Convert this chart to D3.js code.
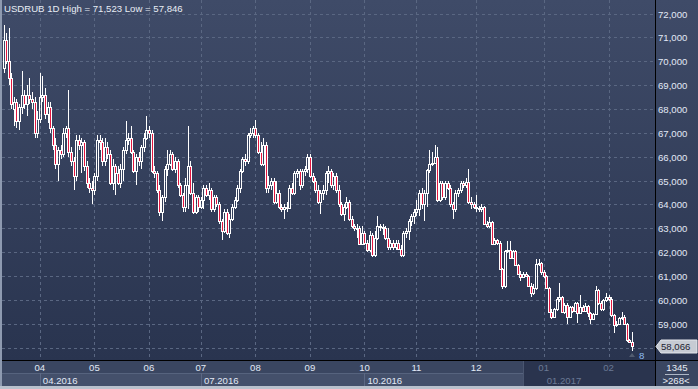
<!DOCTYPE html>
<html>
<head>
<meta charset="utf-8">
<script src="https://cdn.jsdelivr.net/npm/d3@7"></script>
<style>
  html, body { margin: 0; padding: 0; background: #2e3954; }
  svg { display: block; }
  text { font-family: "Liberation Sans", Arial, sans-serif; font-size: 9.6px; }
</style>
</head>
<body>
<div id="chart"></div>
<script>
// daily candles, one array per month: [open, high, low, close] (thousands of RUB)
const mar16 = [
  [69.7,71.523,69.5,70.9],[70.9,71.2,69.9,70.0],[70.0,71.4,69.0,69.3],[69.3,69.5,68.0,68.2],
  [68.0,68.5,67.3,68.3],[68.3,68.4,67.2,67.5],[67.5,68.2,67.1,68.1],[68.1,69.6,67.8,68.6],
  [68.6,68.8,68.0,68.2],[68.2,69.0,67.7,68.6],[68.6,69.3,68.2,68.4],[68.4,68.7,68.0,68.3],
  [68.3,68.5,66.8,67.0],[67.0,67.9,66.8,67.6]
];
const apr16 = [
  [67.6,69.5,67.4,68.5],[68.5,69.4,68.3,68.6],[68.6,68.9,67.6,67.8],[67.8,68.3,67.4,68.1],
  [68.1,68.3,67.0,67.2],[67.2,67.3,66.3,66.5],[66.5,66.8,65.5,65.7],[65.7,66.4,65.0,66.3],
  [66.3,66.5,65.9,66.1],[66.1,67.2,66.0,67.0],[67.0,67.3,66.8,67.2],[67.2,68.8,66.0,66.2],
  [66.2,66.4,65.6,65.8],[65.8,66.0,64.6,65.2],[65.2,66.9,65.0,66.7],[66.7,66.9,66.3,66.5],
  [66.5,66.8,65.3,66.6],[66.6,66.7,65.4,65.6],[65.6,65.8,64.7,64.9],[64.9,65.1,64.5,64.7],
  [64.7,65.0,64.0,64.6]
];
const may16 = [
  [64.6,65.3,64.4,65.2],[65.2,66.9,65.0,66.7],[66.7,66.9,66.3,66.6],[66.6,66.8,65.6,65.8],
  [65.8,66.8,65.6,66.4],[66.4,66.6,65.9,66.1],[66.1,66.3,64.8,64.9],[64.9,65.9,64.6,65.6],
  [65.6,65.7,64.4,65.3],[65.3,65.6,64.8,64.9],[64.9,65.7,64.7,65.5],[65.5,66.4,65.0,66.3],
  [66.3,67.5,66.1,66.7],[66.7,67.0,66.5,66.8],[66.8,67.3,66.1,66.2],[66.2,66.3,65.3,65.4],
  [65.4,66.1,64.8,66.0],[66.0,66.2,65.6,65.8],[65.8,66.5,65.5,66.4],[66.4,67.0,66.2,66.8],
  [66.8,67.7,66.7,67.1]
];
const jun16 = [
  [67.1,67.3,66.8,67.0],[67.0,67.1,65.3,65.4],[65.4,65.6,65.1,65.3],[65.3,65.4,64.5,64.6],
  [64.6,64.8,63.5,63.7],[63.7,64.4,63.3,64.3],[64.3,65.6,64.1,65.5],[65.5,66.3,65.2,65.7],
  [65.7,66.3,65.6,66.1],[66.1,66.2,65.4,65.5],[65.5,66.0,65.3,65.8],[65.8,65.9,64.7,64.8],
  [64.8,64.9,64.3,64.4],[64.4,64.5,63.7,63.9],[63.9,65.1,63.7,64.8],[64.8,67.3,63.8,65.6],
  [65.6,65.8,64.4,64.5],[64.5,64.9,63.6,63.7],[63.7,64.4,63.6,64.3],[64.3,64.4,63.7,63.9]
];
const jul16 = [
  [63.9,64.3,63.8,64.2],[64.2,64.8,63.8,64.7],[64.7,64.8,64.3,64.4],[64.4,64.9,64.2,64.6],
  [64.6,64.7,63.7,63.8],[63.8,64.4,63.7,64.3],[64.3,64.4,63.9,64.0],[64.0,64.1,63.2,63.3],
  [63.3,63.4,62.5,62.9],[62.9,63.8,62.8,63.7],[63.7,63.8,62.7,62.8],[62.8,63.6,62.6,63.4],
  [63.4,64.0,63.3,63.9],[63.9,64.3,63.8,64.2],[64.2,64.8,64.1,64.7],[64.7,65.5,64.5,65.4],
  [65.4,66.0,65.3,65.9],[65.9,66.1,65.6,65.8],[65.8,67.0,65.7,66.9],[66.9,67.2,66.8,67.0],
  [67.0,67.3,66.8,67.2]
];
const aug16 = [
  [67.2,67.52,66.8,66.9],[66.9,67.0,66.1,66.2],[66.2,66.6,65.6,65.7],[65.7,66.8,65.6,66.5],
  [66.5,66.6,64.5,64.7],[64.7,65.2,64.5,64.8],[64.8,65.1,64.6,65.0],[65.0,65.1,64.0,64.1],
  [64.1,65.0,64.0,64.5],[64.5,64.6,63.8,63.9],[63.9,64.0,63.7,63.8],[63.8,64.0,63.4,63.9],
  [63.9,64.1,63.7,63.85],[63.85,64.8,63.8,64.7],[64.7,64.9,64.4,64.5],[64.5,65.4,64.4,65.3],
  [65.3,65.5,65.1,65.4],[65.4,65.5,64.6,64.8],[64.8,65.5,64.7,65.4],[65.4,65.6,65.2,65.5],
  [65.5,66.1,65.3,66.0]
];
const sep16 = [
  [66.0,66.1,65.1,65.2],[65.2,65.3,64.9,65.0],[65.0,65.1,64.5,64.6],[64.6,64.8,64.0,64.1],
  [64.1,64.6,63.6,64.5],[64.5,64.8,64.2,64.6],[64.6,65.4,64.4,65.3],[65.3,65.6,64.9,65.4],
  [65.4,65.5,64.7,64.8],[64.8,65.3,64.6,65.2],[65.2,65.3,64.5,64.6],[64.6,64.8,63.9,64.0],
  [64.0,64.1,63.5,63.6],[63.6,64.0,63.3,63.9],[63.9,64.3,63.8,64.1],[64.1,64.2,63.3,63.4],
  [63.4,63.5,63.0,63.1],[63.1,63.2,62.9,63.0],[63.0,63.2,62.6,63.0],[63.0,63.1,62.3,62.35],
  [62.35,63.1,62.3,62.8]
];
const oct16 = [
  [62.8,62.9,62.3,62.4],[62.4,62.5,62.0,62.1],[62.1,62.9,62.0,62.7],[62.7,62.8,61.8,61.9],
  [61.9,62.9,61.8,62.6],[62.6,63.5,62.5,63.1],[63.1,63.2,62.9,63.05],[63.05,63.2,62.7,63.0],
  [63.0,63.1,62.5,62.6],[62.6,63.0,62.1,62.2],[62.2,62.5,62.1,62.4],[62.4,62.5,62.1,62.2],
  [62.2,62.5,62.1,62.4],[62.4,62.5,62.1,62.15],[62.15,62.3,61.8,61.9],[61.9,62.9,61.8,62.8],
  [62.8,63.0,62.6,62.9],[62.9,63.4,62.5,63.3],[63.3,63.6,63.1,63.5],[63.5,63.8,63.2,63.7]
];
const nov16 = [
  [63.7,64.2,63.5,63.8],[63.8,64.6,63.5,64.5],[64.5,64.7,63.8,64.0],[64.0,64.6,63.3,64.5],
  [64.5,65.5,63.9,65.45],[65.45,66.3,65.3,65.7],[65.7,66.2,65.6,65.75],[65.75,66.5,65.7,66.0],
  [66.0,66.4,64.1,64.2],[64.2,65.0,64.1,64.9],[64.9,65.0,64.2,64.3],[64.3,65.0,64.2,64.9],
  [64.9,65.0,64.6,64.7],[64.7,64.8,63.9,64.0],[64.0,64.1,63.4,63.8],[63.8,64.6,63.7,64.5],
  [64.5,64.7,64.3,64.6],[64.6,65.0,64.5,64.9],[64.9,65.0,64.7,64.8],[64.8,65.1,64.7,64.95],
  [64.95,65.5,64.0,64.1],[64.1,64.3,63.8,64.0],[64.0,64.1,63.8,63.9]
];
const dec16 = [
  [63.9,64.4,63.7,63.85],[63.85,63.95,63.7,63.8],[63.8,64.0,63.7,63.9],[63.9,63.95,63.15,63.2],
  [63.2,63.3,63.0,63.1],[63.1,63.47,63.0,63.25],[63.25,63.3,62.3,62.35],[62.35,62.6,62.3,62.5],
  [62.5,62.55,62.3,62.4],[62.4,62.45,61.25,61.3],[61.3,61.35,60.45,60.6],[60.6,62.1,60.5,62.05],
  [62.05,62.45,61.95,62.1],[62.1,62.45,61.7,61.75],[61.75,62.1,61.7,62.05],[62.05,62.1,61.4,61.45],
  [61.45,61.5,61.05,61.1],[61.1,61.2,60.8,60.95],[60.95,61.15,60.9,61.1],[61.1,61.15,60.95,61.0],
  [61.0,61.05,60.55,60.6],[60.6,60.7,60.1,60.3],[60.3,60.65,60.2,60.5],[60.5,61.7,60.4,61.5],
  [61.5,61.7,61.4,61.55],[61.55,61.6,61.05,61.15]
];
const jan17 = [
  [61.15,61.25,60.9,61.0],[61.0,61.05,60.45,60.5],[60.5,60.55,59.45,59.5],[59.5,59.6,59.2,59.3],
  [59.3,59.65,59.25,59.6],[59.6,60.1,59.55,60.05],[60.05,60.7,59.9,60.1],[60.1,60.15,59.45,59.5],
  [59.5,59.85,59.4,59.8],[59.8,59.85,59.0,59.3],[59.3,59.75,59.25,59.7],[59.7,59.75,59.45,59.55],
  [59.55,59.9,59.5,59.85],[59.85,59.9,59.05,59.45],[59.45,60.2,59.4,59.7],[59.7,59.8,59.5,59.55],
  [59.55,59.85,59.5,59.75],[59.75,59.8,59.3,59.45],[59.45,59.5,59.0,59.2],[59.2,59.45,59.15,59.4],
  [59.4,60.6,59.35,60.4],[60.4,60.45,59.8,59.85],[59.85,59.95,59.55,59.6],[59.6,60.05,59.55,60.0],
  [60.0,60.3,59.9,60.1]
];
const feb17 = [
  [60.1,60.2,59.95,60.05],[60.05,60.1,59.3,59.35],[59.35,59.4,58.6,58.95],[58.95,59.1,58.85,59.0],
  [59.0,59.3,58.95,59.25],[59.25,59.5,59.15,59.3],[59.3,59.35,58.95,59.0],[59.0,59.05,58.25,58.3],
  [58.3,58.35,58.2,58.25],[58.25,58.65,57.846,58.066]
];

const MONTHS = [mar16, apr16, may16, jun16, jul16, aug16, sep16, oct16, nov16, dec16, jan17, feb17];
const MONTH_LABELS = ["03","04","05","06","07","08","09","10","11","12","01","02"];
const QUARTERS = [ { month: 1, label: "04.2016" }, { month: 4, label: "07.2016" },
                   { month: 7, label: "10.2016" }, { month: 10, label: "01.2017" } ];
const Y_TICKS = [59,60,61,62,63,64,65,66,67,68,69,70,71,72];
const SHADE_FROM = 200;          // candle index where the dim bottom area starts
const BAR_COUNT_TEXT = "1345";
const RANGE_TEXT = ">268<";
const MARK_TEXT = "8";

const W = 698, H = 389;
const PLOT_R = 655, AXIS_Y = 360;
const RED = "#e3163f";

// flatten months into candles
const candles = [];
const monthStart = [];
MONTHS.forEach(m => {
  monthStart.push(candles.length);
  m.forEach(([o, h, l, c]) => candles.push({ i: candles.length, o, h, l, c }));
});
const N = candles.length;

const x = d3.scaleLinear().domain([0, N - 1]).range([3.5, 632]);
const y = d3.scaleLinear().domain([58, 68]).range([347.6, 109]);
const fmt = d3.format(",");
const k = v => fmt(Math.round(v * 1000));

const svg = d3.select("#chart").append("svg")
  .attr("width", W).attr("height", H);

const grad = svg.append("defs").append("linearGradient")
  .attr("id", "bg").attr("x1", 0).attr("y1", 0).attr("x2", 0).attr("y2", 1);
grad.append("stop").attr("offset", "0%").attr("stop-color", "#3f4b68");
grad.append("stop").attr("offset", "100%").attr("stop-color", "#29344f");

svg.append("rect").attr("width", W).attr("height", AXIS_Y + 1).attr("fill", "url(#bg)");

// grid
const grid = svg.append("g").attr("stroke", "#5a6782").attr("stroke-dasharray", "3,3");
[58, ...Y_TICKS].forEach(v => {
  const yy = Math.round(y(v)) + 0.5;
  grid.append("line").attr("x1", 2).attr("x2", PLOT_R).attr("y1", yy).attr("y2", yy);
});
monthStart.slice(1).forEach(idx => {
  const xx = Math.round(x(idx)) + 0.5;
  grid.append("line").attr("x1", xx).attr("x2", xx).attr("y1", 0).attr("y2", AXIS_Y);
});

// candles: hollow white when up, red with white outline when down
const cg = svg.append("g");
candles.forEach(d => {
  const cx = Math.round(x(d.i));
  const up = d.c >= d.o;
  const top = Math.round(y(Math.max(d.o, d.c)));
  const bot = Math.max(top + 1, Math.round(y(Math.min(d.o, d.c))));
  const hi = Math.round(y(d.h)), lo = Math.round(y(d.l));
  if (up) {
    cg.append("line").attr("x1", cx + 0.5).attr("x2", cx + 0.5).attr("y1", hi).attr("y2", top)
      .attr("stroke", "#fff");
    cg.append("line").attr("x1", cx + 0.5).attr("x2", cx + 0.5).attr("y1", bot).attr("y2", lo)
      .attr("stroke", "#fff");
  } else {
    cg.append("line").attr("x1", cx + 0.5).attr("x2", cx + 0.5).attr("y1", hi).attr("y2", lo)
      .attr("stroke", "#fff");
  }
  cg.append("rect")
    .attr("x", cx - 0.5).attr("y", top + 0.5)
    .attr("width", 2).attr("height", bot - top)
    .attr("fill", up ? "none" : RED)
    .attr("stroke", "#fff").attr("stroke-width", 1);
});

// y labels
svg.append("g").selectAll("text").data(Y_TICKS).join("text")
  .attr("x", 658).attr("y", v => Math.round(y(v)) + 4)
  .attr("fill", "#e2e9f6")
  .text(v => k(v));

// title
const hiAll = d3.max(candles, d => d.h), loAll = d3.min(candles, d => d.l);
svg.append("text").attr("x", 4).attr("y", 12)
  .attr("fill", "#e8edf5")
  .text(`USDRUB 1D High = ${k(hiAll)} Low = ${k(loAll)}`);

// bottom axis panel
const shadeX = Math.round(x(SHADE_FROM));
svg.append("rect").attr("x", 0).attr("y", AXIS_Y).attr("width", W).attr("height", H - AXIS_Y)
  .attr("fill", "#3a4661");
svg.append("rect").attr("x", 2).attr("y", 373).attr("width", PLOT_R - 2).attr("height", 13)
  .attr("fill", "#44506b");
svg.append("line").attr("x1", 2).attr("x2", PLOT_R).attr("y1", 373.5).attr("y2", 373.5)
  .attr("stroke", "#56637e");
QUARTERS.forEach(q => {
  const xx = Math.round(x(monthStart[q.month])) + 0.5;
  if (xx < shadeX) {
    svg.append("line").attr("x1", xx).attr("x2", xx).attr("y1", 373).attr("y2", 386)
      .attr("stroke", "#5b6884");
  }
});
svg.append("rect").attr("x", shadeX).attr("y", AXIS_Y + 1).attr("width", PLOT_R - shadeX)
  .attr("height", 25).attr("fill", "#2a344e");
svg.append("line").attr("x1", shadeX + 0.5).attr("x2", shadeX + 0.5).attr("y1", AXIS_Y + 1).attr("y2", 386)
  .attr("stroke", "#4a5670");

monthStart.slice(1).forEach((idx, j) => {
  const xx = x(idx);
  svg.append("text").attr("x", xx).attr("y", 371).attr("text-anchor", "middle")
    .attr("fill", xx > shadeX ? "#6b7994" : "#e2e9f6")
    .text(MONTH_LABELS[j + 1]);
});
QUARTERS.forEach(q => {
  const xx = x(monthStart[q.month]) + 3;
  svg.append("text").attr("x", xx).attr("y", 383.5)
    .attr("fill", xx > shadeX ? "#6b7994" : "#e2e9f6")
    .text(q.label);
});

// axis lines
svg.append("line").attr("x1", 0).attr("x2", W).attr("y1", AXIS_Y + 0.5).attr("y2", AXIS_Y + 0.5)
  .attr("stroke", "#000");
svg.append("line").attr("x1", PLOT_R + 0.5).attr("x2", PLOT_R + 0.5).attr("y1", 0).attr("y2", H)
  .attr("stroke", "#000");

// bottom-right box
svg.append("text").attr("x", 677).attr("y", 370.5).attr("text-anchor", "middle")
  .attr("fill", "#e8edf5").text(BAR_COUNT_TEXT);
svg.append("line").attr("x1", 665).attr("x2", 689).attr("y1", 374.5).attr("y2", 374.5)
  .attr("stroke", "#aeb7c6");
svg.append("text").attr("x", 676).attr("y", 383.5).attr("text-anchor", "middle")
  .attr("fill", "#e8edf5").text(RANGE_TEXT);

// last price label
const last = candles[N - 1];
const ly = Math.round(y(last.c)) + 0.5;
svg.append("path")
  .attr("d", `M656,${ly} L661,${ly - 6.5} L697,${ly - 6.5} L697,${ly + 6.5} L661,${ly + 6.5} Z`)
  .attr("fill", "#c6cbd3").attr("stroke", "#e4e7ec");
svg.append("text").attr("x", 661).attr("y", ly + 3.5)
  .attr("fill", "#1c2231").text(k(last.c));

// marker under last candle
const mx = Math.round(x(N - 1));
svg.append("path").attr("d", `M${mx - 3},357 L${mx + 3},357 L${mx},353 Z`).attr("fill", "#515c70");
svg.append("text").attr("x", mx + 7).attr("y", 358.5)
  .attr("fill", "#8fbdf2").attr("font-size", "10.5px").text(MARK_TEXT);

// frame
svg.append("rect").attr("x", 0).attr("y", 0).attr("width", 2).attr("height", H).attr("fill", "#8e9ab0");
svg.append("rect").attr("x", 0).attr("y", 386).attr("width", W).attr("height", 3).attr("fill", "#b9c1cd");
</script>
</body>
</html>
